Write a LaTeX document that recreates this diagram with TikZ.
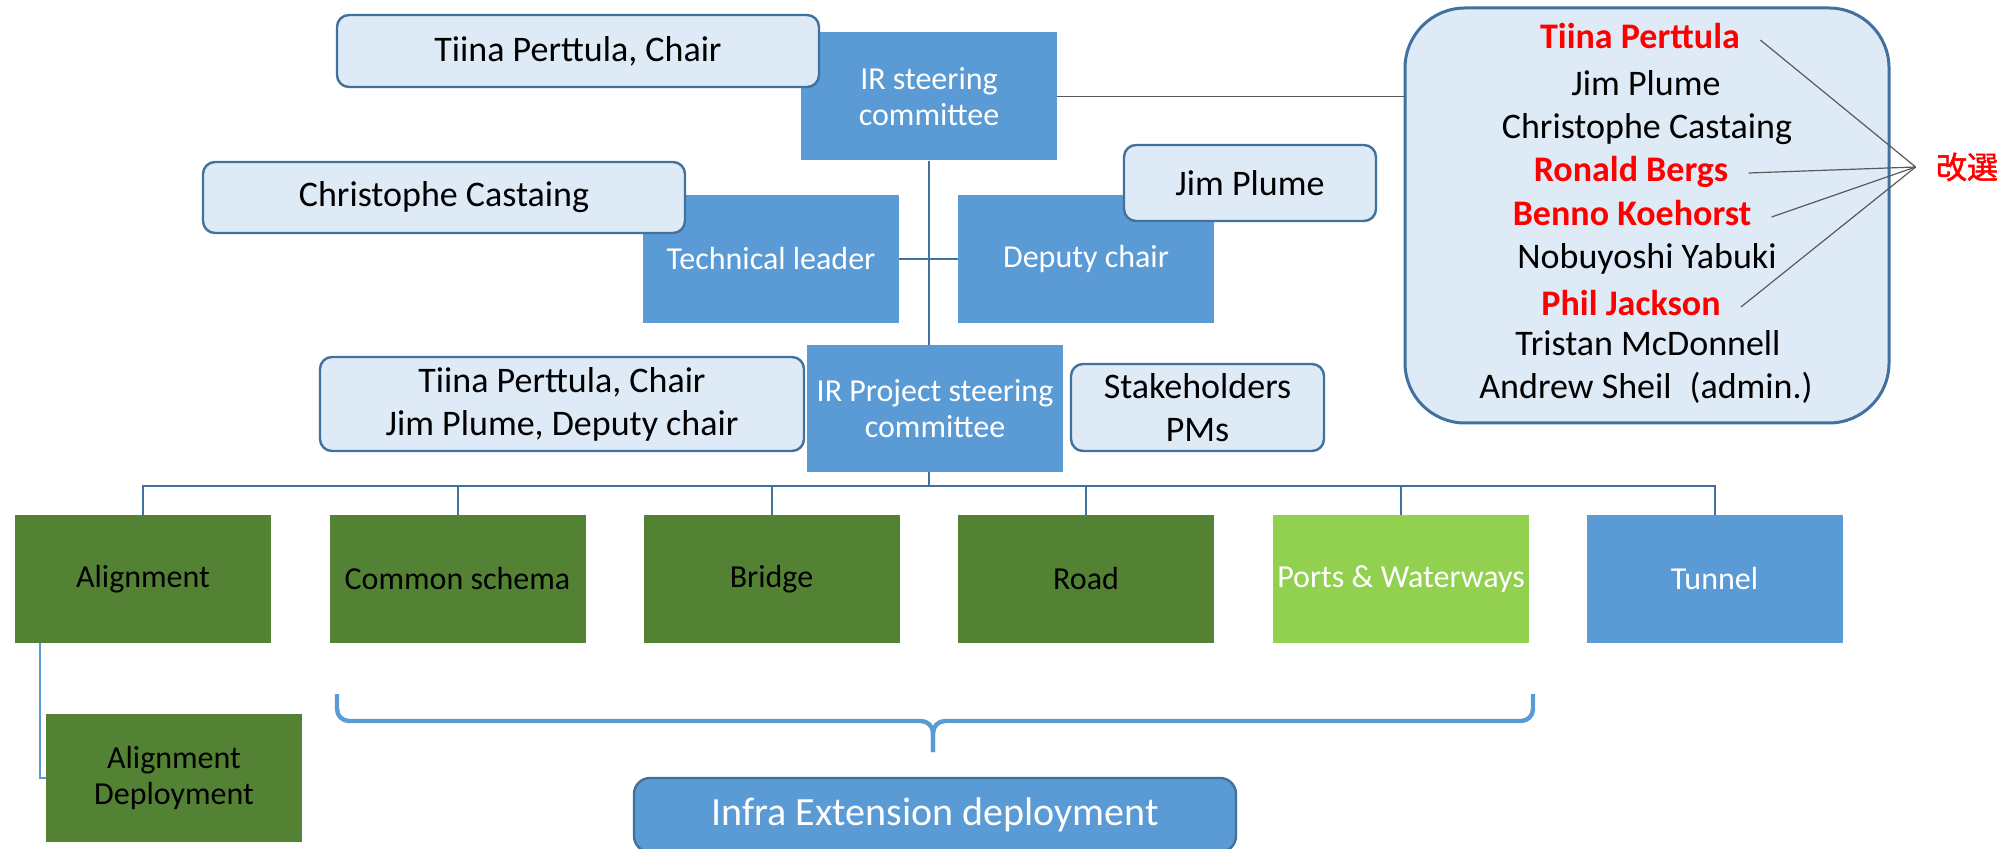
\documentclass[tikz,border=0pt]{standalone}
\usepackage{fontspec}
\setmainfont{Carlito}
\newfontfamily\cjk[FakeBold=1.5]{Noto Sans CJK JP}
\usepackage{tikz}
\definecolor{boxblue}{HTML}{5B9BD5}
\definecolor{paleblue}{HTML}{DEEBF7}
\definecolor{edge}{HTML}{41719C}
\definecolor{leaf}{HTML}{548235}
\definecolor{lime}{HTML}{92D050}
\definecolor{wirecol}{HTML}{41719C}
\definecolor{grayline}{HTML}{595959}
\definecolor{flag}{HTML}{FF0000}
\tikzset{
  unit/.style={fill=boxblue, text=white, minimum width=128pt, minimum height=64pt, align=center, inner sep=2pt, font=\fontsize{16}{18}\selectfont},
  team/.style={unit, fill=leaf, text=black},
  water/.style={unit, fill=lime},
  person/.style={draw=edge, line width=1.2pt, fill=paleblue, rounded corners=6pt, align=center, font=\fontsize{18}{21.5}\selectfont},
  wire/.style={draw=wirecol, line width=1pt},
  brace/.style={draw=boxblue, line width=2.2pt, rounded corners=6pt},
  namelab/.style={inner xsep=10pt, inner ysep=0pt, text height=13pt, text depth=4pt, font=\fontsize{18}{21.5}\selectfont},
  renamed/.style={namelab, text=flag, font=\bfseries\fontsize{18}{21.5}\selectfont},
  pointer/.style={draw=grayline, line width=0.6pt},
}
\begin{document}
\begin{tikzpicture}[x=0.5pt,y=-0.5pt]
  \useasboundingbox (0,0) rectangle (2016,849);
  % steering level
  \node[unit] (steer) at (929,96.5) {IR steering\\committee};
  \node[person, minimum width=241pt, minimum height=36pt] (chairTP) at (578,51) {Tiina Perttula, Chair};
  \node[unit] (tech) at (771,259) {Technical leader};
  \node[unit] (deputy) at (1086,259) {Deputy chair};
  \node[person, minimum width=241pt, minimum height=35.5pt] (chairCC) at (444,197.5) {Christophe Castaing};
  \node[person, minimum width=126pt, minimum height=38pt] (chairJP) at (1250,183) {Jim Plume};
  \node[unit, minimum height=63.5pt] (proj) at (935,408.5) {IR Project steering\\committee};
  \node[person, minimum width=242pt, minimum height=47pt] (lead) at (562,404) {Tiina Perttula, Chair\\Jim Plume, Deputy chair};
  \node[person, minimum width=126.5pt, minimum height=43.5pt] (stake) at (1197.5,407.5) {Stakeholders\\PMs};
  \draw[wire] (steer.south) -- (steer.south |- proj.north);
  \draw[wire] (tech) -- (deputy);

  % project groups
  \coordinate (bus) at (929,486);
  \draw[wire] (proj.south -| bus) -- (bus);
  \foreach \X/\x/\lab/\kind in {align/143/Alignment/team, common/457.5/Common schema/team,
      bridge/771.5/Bridge/team, road/1086/Road/team, ports/1401/Ports \& Waterways/water,
      tunnel/1714.5/Tunnel/unit}
  {
    \node[\kind] (\X) at (\x,579) {\lab};
    \draw[wire] (\X.north) |- (bus);
  }
  \node[team] (aligndep) at (174,778) {Alignment\\Deployment};
  \draw[wire, draw=boxblue] ([xshift=12.5pt]align.south west) |- (aligndep.west);

  % infra extensions
  \draw[brace] (337,694) -- (337,721) -- (933,721) -- (933,752);
  \draw[brace] (1533,694) -- (1533,721) -- (933,721) -- (933,752);
  \node[unit, draw=edge, line width=1.2pt, rounded corners=8pt, minimum width=301pt, minimum height=37pt,
    font=\fontsize{20}{24}\selectfont] (infra) at (935,815) {Infra Extension deployment};

  % members
  \node[draw=edge, line width=1.5pt, fill=paleblue, rounded corners=30pt, minimum width=242pt, minimum height=207.5pt] (board) at (1647,215.5) {};
  \draw[pointer] (steer.east) -- (steer.east -| board.west);
  \foreach \X/\x/\y/\name/\sty in {tp/1640/40/Tiina Perttula/renamed, jp/1646/87/Jim Plume/namelab,
      cc/1647/130/Christophe Castaing/namelab, rb/1631/173/Ronald Bergs/renamed,
      bk/1632/217/Benno Koehorst/renamed, ny/1647/260/Nobuyoshi Yabuki/namelab,
      pj/1631/307/Phil Jackson/renamed, tm/1648/347/Tristan McDonnell/namelab,
      as/1646/390/Andrew Sheil\enspace(admin.)/namelab}
    \node[\sty] (\X) at (\x,\y) {\name};
  \node[text=flag, inner xsep=10pt, font=\cjk\fontsize{15.5}{18}\selectfont] (kaisen) at (1967,167) {改選};
  \foreach \X in {tp,rb,bk,pj}
    \draw[pointer] (\X.east) -- (kaisen.west);
\end{tikzpicture}
\end{document}
